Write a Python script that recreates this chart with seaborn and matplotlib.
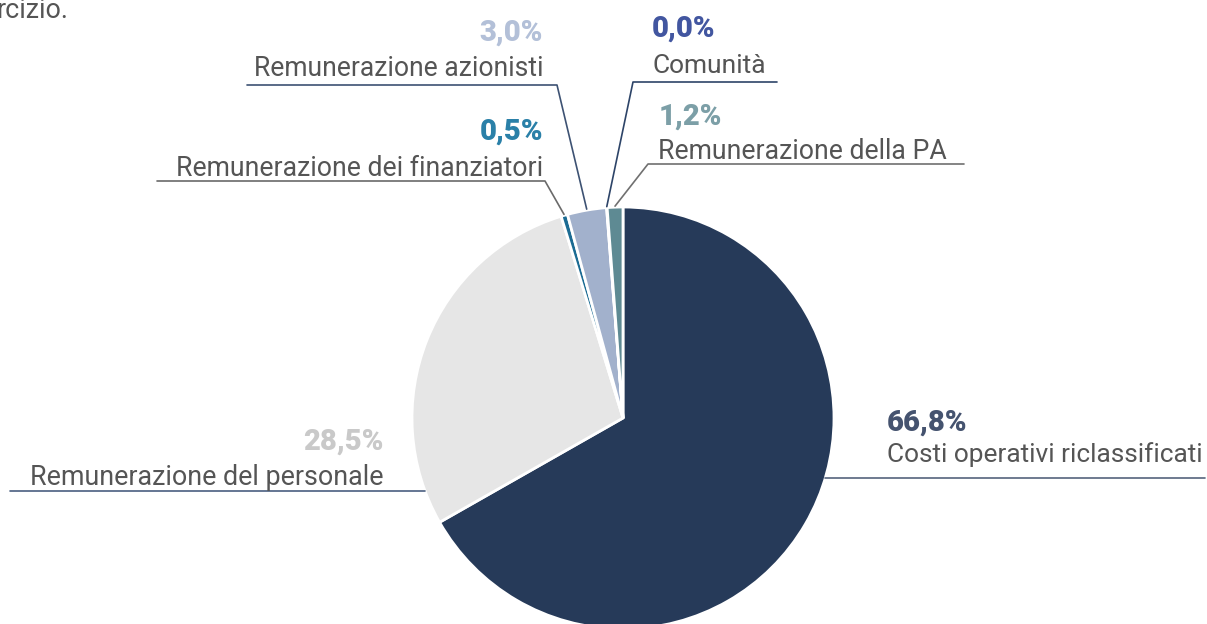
import numpy as np
import matplotlib
matplotlib.use("Agg")
import matplotlib.pyplot as plt
import seaborn as sns

# ---- data ----
categories = ["Costi operativi riclassificati", "Remunerazione del personale",
              "Remunerazione dei finanziatori", "Remunerazione azionisti",
              "Comunità", "Remunerazione della PA"]
shares = [66.8, 28.5, 0.5, 3.0, 0.04, 1.2]
pct_labels = ["66,8%", "28,5%", "0,5%", "3,0%", "0,0%", "1,2%"]
slice_colors = ["#263a59", "#e6e6e6", "#1b6b93", "#a2b1cc", "#3f5aa0", "#5e8a93"]
pct_colors = ["#45536f", "#c9c9c9", "#2a80a8", "#b3c0d8", "#4256a0", "#7c9fa7"]

sns.set_theme(style="white")
plt.rcParams['font.family'] = ['Roboto', 'DejaVu Sans']

W, H = 1207, 624
fig = plt.figure(figsize=(W / 100, H / 100), dpi=100)
ax = fig.add_axes([0, 0, 1, 1])

def Y(y_img):
    return H - y_img

cx, cy_img, r = 623, 418, 211
wedges, _ = ax.pie(shares, colors=slice_colors, startangle=90, counterclock=False,
                   center=(cx, Y(cy_img)), radius=r, frame=True,
                   wedgeprops=dict(edgecolor="white", linewidth=2))
ax.set_xlim(0, W)
ax.set_ylim(0, H)
ax.set_aspect("equal")
ax.axis("off")

# ---- font size fitting (to reference text widths) ----
renderer = fig.canvas.get_renderer()
def fit_size(text, target_w, weight="normal"):
    t = ax.text(0, 0, text, fontsize=20, fontweight=weight)
    w = t.get_window_extent(renderer).width
    t.remove()
    return 20 * target_w / w

fs_pct = fit_size("28,5%", 80, "heavy")
text_col = "#555555"

# layout: (pct x, pct baseline, label x, label baseline, label width, ha,
#          underline y, underline far x, elbow x)
layout = [
    (887, 431, 887, 462, 316, "left", 478, 1205, None),
    (383, 450, 383, 485, 353, "right", 491, 10, None),
    (543, 140, 543, 176, 366, "right", 181, 157, 545),
    (543, 41, 543, 76, 289, "right", 85, 247, 557),
    (652, 37, 652, 73, 114, "left", 82, 777, 633),
    (659, 125, 658, 159, 288, "left", 164, 964, 648),
]
line_cols = ["#55637d", "#4a5f80", "#6a6a6a", "#3d5273", "#2d4468", "#707070"]

for i, (w, lay) in enumerate(zip(wedges, layout)):
    px, pb, lx, lb, lw_, ha, uy, ufar, ex = lay
    ax.text(px, Y(pb), pct_labels[i], fontsize=fs_pct, fontweight="heavy",
            color=pct_colors[i], ha=ha, va="baseline")
    fs = fit_size(categories[i], lw_)
    ax.text(lx, Y(lb), categories[i], fontsize=fs, color=text_col,
            ha=ha, va="baseline")
    if ex is None:
        dy = uy - cy_img
        edge_x = cx + np.sign(px - cx) * np.sqrt(r ** 2 - dy ** 2)
        ax.plot([ufar, edge_x], [Y(uy), Y(uy)], color=line_cols[i], lw=1.2)
    else:
        ang = np.deg2rad((w.theta1 + w.theta2) / 2)
        axx = cx + (r + 1) * np.cos(ang)
        ayy = Y(cy_img) + (r + 1) * np.sin(ang)
        ax.plot([ufar, ex, axx], [Y(uy), Y(uy), ayy], color=line_cols[i], lw=1.2)

# text continuing from above the chart (clipped in the reference too)
ax.text(-4, Y(18), "rcizio.", fontsize=fit_size("Remunerazione del personale", 353),
        color=text_col, ha="left", va="baseline")

fig.savefig("out.png", dpi=100)
